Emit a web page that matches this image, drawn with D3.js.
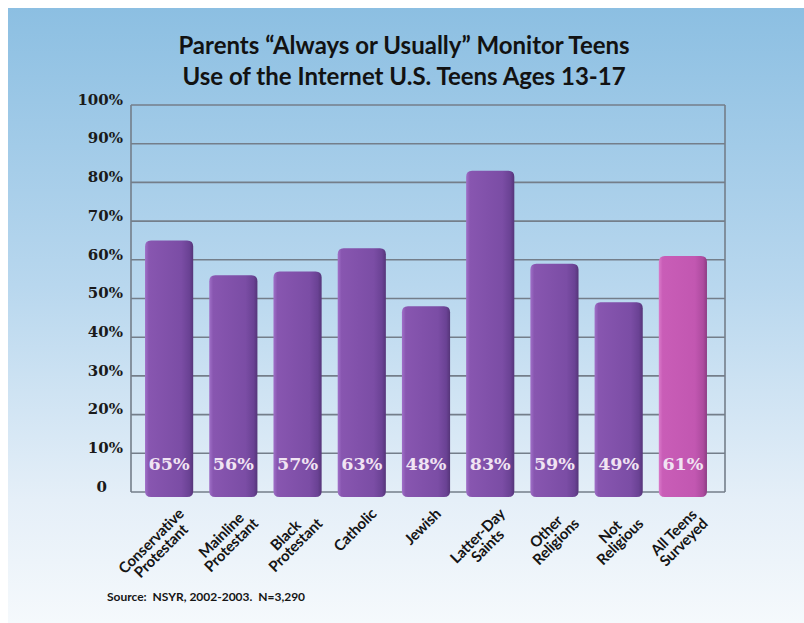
<!DOCTYPE html>
<html lang="en">
<head>
  <meta charset="UTF-8">
  <title>Parents Monitor Teens Internet Use</title>
  <script src="https://d3js.org/d3.v7.min.js"></script>
  <style>
    body { margin: 0; background: #fff; }
    svg { display: block; }
  </style>
</head>
<body>
<div id="chart"></div>
<script>
  // data
  const categories = [
    ["Conservative", "Protestant"],
    ["Mainline", "Protestant"],
    ["Black", "Protestant"],
    ["Catholic"],
    ["Jewish"],
    ["Latter-Day", "Saints"],
    ["Other", "Religions"],
    ["Not", "Religious"],
    ["All Teens", "Surveyed"]
  ];
  const values = [65, 56, 57, 63, 48, 83, 59, 49, 61];
  const yTicks = [0, 10, 20, 30, 40, 50, 60, 70, 80, 90, 100];
  const titleLines = ["Parents \u201cAlways or Usually\u201d Monitor Teens", "Use of the Internet U.S. Teens Ages 13-17"];
  const source = "Source:  NSYR, 2002-2003.  N=3,290";

  const width = 804, height = 623;
  const plot = {left: 131, right: 725, top: 105, bottom: 492};

  const svg = d3.select("#chart").append("svg")
    .attr("width", width)
    .attr("height", height);

  const defs = svg.append("defs");

  // sky background
  const bg = defs.append("linearGradient").attr("id", "bg")
    .attr("x1", 0).attr("y1", 0).attr("x2", 0).attr("y2", 1);
  bg.append("stop").attr("offset", "0%").attr("stop-color", "#8cbfe2");
  bg.append("stop").attr("offset", "45%").attr("stop-color", "#b8d7ee");
  bg.append("stop").attr("offset", "80%").attr("stop-color", "#e5eff8");
  bg.append("stop").attr("offset", "100%").attr("stop-color", "#f5f9fc");

  // bar shading, purple and pink
  function barGradient(id, stops) {
    const g = defs.append("linearGradient").attr("id", id)
      .attr("x1", 0).attr("y1", 0).attr("x2", 1).attr("y2", 0);
    stops.forEach(s => g.append("stop").attr("offset", s[0]).attr("stop-color", s[1]));
  }
  barGradient("purple", [["0%", "#a070c8"], ["8%", "#8856b0"], ["75%", "#7b4da5"], ["92%", "#6a4294"], ["100%", "#553579"]]);
  barGradient("pink", [["0%", "#da7aca"], ["8%", "#c95db7"], ["75%", "#c257b1"], ["92%", "#ad4b9f"], ["100%", "#8d3c83"]]);

  svg.append("rect")
    .attr("x", 8).attr("y", 8)
    .attr("width", width - 8).attr("height", height - 8)
    .attr("fill", "url(#bg)");

  // title
  svg.append("g").selectAll("text")
    .data(titleLines)
    .join("text")
    .attr("x", 404)
    .attr("y", (d, i) => 54 + i * 31)
    .attr("text-anchor", "middle")
    .attr("font-family", "Lato, sans-serif")
    .attr("font-weight", "bold")
    .attr("font-size", 24)
    .attr("fill", "#121212")
    .text(d => d);

  // scales
  const x = d3.scaleBand()
    .domain(d3.range(values.length))
    .range([137, 715])
    .paddingInner(0.25)
    .paddingOuter(0.125);

  const y = d3.scaleLinear()
    .domain([0, 100])
    .range([plot.bottom, plot.top]);

  // grid lines
  svg.append("g")
    .selectAll("line")
    .data(yTicks)
    .join("line")
    .attr("x1", plot.left).attr("x2", plot.right)
    .attr("y1", d => y(d)).attr("y2", d => y(d))
    .attr("stroke", "#747e8a")
    .attr("stroke-width", 1.6);

  // frame sides
  svg.append("g").selectAll("line")
    .data([plot.left, plot.right])
    .join("line")
    .attr("x1", d => d).attr("x2", d => d)
    .attr("y1", plot.top).attr("y2", plot.bottom)
    .attr("stroke", "#747e8a")
    .attr("stroke-width", 1.6);

  // y axis labels
  const yAxis = d3.axisLeft(y)
    .tickValues(yTicks)
    .tickSize(0)
    .tickPadding(8)
    .tickFormat(d => d === 0 ? "0" : d + "%");

  const yg = svg.append("g")
    .attr("transform", `translate(${plot.left},0)`)
    .call(yAxis);
  yg.select(".domain").remove();
  yg.selectAll("text")
    .attr("font-family", "'DejaVu Serif', serif")
    .attr("font-weight", "bold")
    .attr("font-size", 15)
    .attr("fill", "#1a1a1a")
    .attr("dy", "-0.05em")
    .attr("x", d => d === 0 ? -24 : -8);

  // bars
  const r = 6;
  svg.append("g")
    .selectAll("path")
    .data(values)
    .join("path")
    .attr("fill", (d, i) => i === values.length - 1 ? "url(#pink)" : "url(#purple)")
    .attr("d", (d, i) => {
      const x0 = x(i), w = x.bandwidth();
      const top = y(d), bot = y(0) + 5;
      return `M${x0},${top + r}
        Q${x0},${top} ${x0 + r},${top}
        L${x0 + w - r},${top}
        Q${x0 + w},${top} ${x0 + w},${top + r}
        L${x0 + w},${bot - r}
        Q${x0 + w},${bot} ${x0 + w - r},${bot}
        L${x0 + r},${bot}
        Q${x0},${bot} ${x0},${bot - r}Z`;
    });

  // value labels inside the bars
  svg.append("g")
    .selectAll("text")
    .data(values)
    .join("text")
    .attr("x", (d, i) => x(i) + x.bandwidth() / 2)
    .attr("y", 470)
    .attr("text-anchor", "middle")
    .attr("font-family", "'DejaVu Serif', serif")
    .attr("font-weight", "bold")
    .attr("font-size", 17.5)
    .attr("fill", "#f1e4f3")
    .text(d => d + "%");

  // category labels, rotated
  const lineH = 14;
  const labels = svg.append("g")
    .selectAll("g")
    .data(categories)
    .join("g")
    .attr("transform", (d, i) => `translate(${x(i) + x.bandwidth() / 2 + 8},${plot.bottom + 15}) rotate(-45)`);

  labels.each(function(lines) {
    const g = d3.select(this);
    const t = g.selectAll("text")
      .data(lines)
      .join("text")
      .attr("y", (d, i) => 11 + i * lineH)
      .attr("text-anchor", "middle")
      .attr("font-family", "Lato, sans-serif")
      .attr("font-weight", "bold")
      .attr("font-size", 15)
      .attr("letter-spacing", "-0.2")
      .attr("fill", "#151515")
      .text(d => d);
    let maxW = 0;
    t.each(function() { maxW = Math.max(maxW, this.getComputedTextLength()); });
    t.attr("x", -maxW / 2);
  });

  // source note
  svg.append("text")
    .attr("x", 107)
    .attr("y", 601)
    .attr("font-family", "Lato, sans-serif")
    .attr("font-weight", "bold")
    .attr("font-size", 12)
    .attr("fill", "#151515")
    .style("white-space", "pre")
    .text(source);
</script>
</body>
</html>
